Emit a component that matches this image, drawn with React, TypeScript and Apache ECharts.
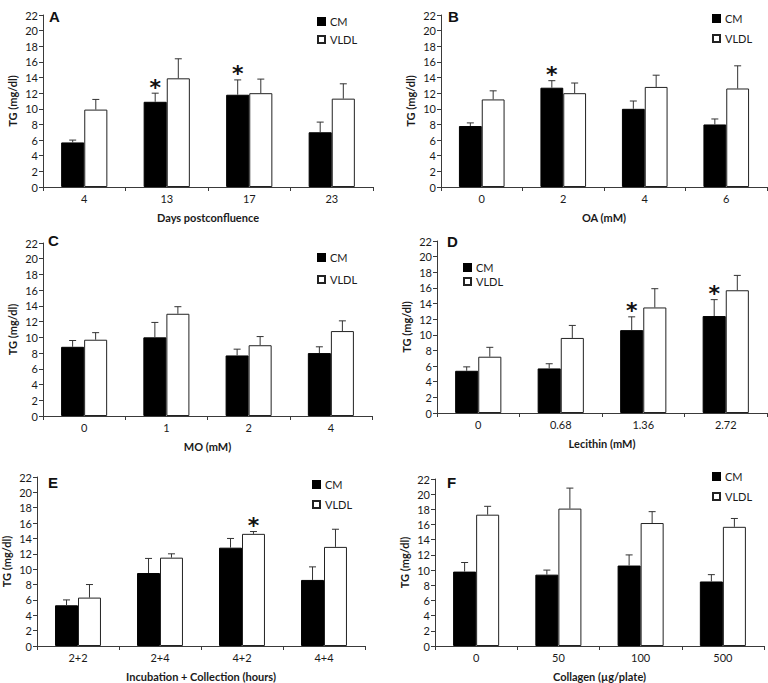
import React, { useEffect, useRef } from "react";
import * as echarts from "echarts";

// ---------- DATA ----------
const catsA = ["4", "13", "17", "23"];
const cmA = [5.7, 10.9, 11.8, 7.0];
const cmSeA = [0.3, 1.1, 1.9, 1.3];
const vldlA = [9.9, 13.9, 12.0, 11.3];
const vldlSeA = [1.3, 2.5, 1.8, 1.9];
const starCmA = [0, 1, 1, 0];
const starVldlA = [0, 0, 0, 0];

const catsB = ["0", "2", "4", "6"];
const cmB = [7.8, 12.7, 10.0, 8.0];
const cmSeB = [0.4, 0.9, 1.0, 0.7];
const vldlB = [11.2, 12.0, 12.8, 12.6];
const vldlSeB = [1.1, 1.3, 1.5, 2.9];
const starCmB = [0, 1, 0, 0];
const starVldlB = [0, 0, 0, 0];

const catsC = ["0", "1", "2", "4"];
const cmC = [8.8, 10.0, 7.7, 8.0];
const cmSeC = [0.8, 1.9, 0.8, 0.8];
const vldlC = [9.7, 13.0, 9.0, 10.8];
const vldlSeC = [0.9, 0.9, 1.1, 1.3];
const starCmC = [0, 0, 0, 0];
const starVldlC = [0, 0, 0, 0];

const catsD = ["0", "0.68", "1.36", "2.72"];
const cmD = [5.4, 5.7, 10.6, 12.4];
const cmSeD = [0.5, 0.6, 1.7, 2.1];
const vldlD = [7.2, 9.6, 13.5, 15.7];
const vldlSeD = [1.2, 1.6, 2.4, 1.9];
const starCmD = [0, 0, 1, 1];
const starVldlD = [0, 0, 0, 0];

const catsE = ["2+2", "2+4", "4+2", "4+4"];
const cmE = [5.3, 9.5, 12.8, 8.6];
const cmSeE = [0.7, 1.9, 1.2, 1.7];
const vldlE = [6.3, 11.5, 14.6, 12.9];
const vldlSeE = [1.7, 0.5, 0.3, 2.3];
const starCmE = [0, 0, 0, 0];
const starVldlE = [0, 0, 1, 0];

const catsF = ["0", "50", "100", "500"];
const cmF = [9.8, 9.4, 10.6, 8.5];
const cmSeF = [1.2, 0.6, 1.4, 0.9];
const vldlF = [17.3, 18.1, 16.2, 15.7];
const vldlSeF = [1.1, 2.7, 1.5, 1.1];
const starCmF = [0, 0, 0, 0];
const starVldlF = [0, 0, 0, 0];

const yTicks = { min: 0, max: 22, interval: 2 };
const yName = "TG (mg/dl)";

// ---------- LAYOUT ----------
const FONT = "Lato";

const panels = [
  { letter: "A", cats: catsA, cm: cmA, cmSe: cmSeA, vldl: vldlA, vldlSe: vldlSeA, sc: starCmA, sv: starVldlA, xName: "Days postconfluence",
    grid: { left: 43, top: 15, width: 330, height: 172 }, legend: { left: 317, top: 16, gap: 7 }, letterPos: { left: 49, top: 9 } },
  { letter: "B", cats: catsB, cm: cmB, cmSe: cmSeB, vldl: vldlB, vldlSe: vldlSeB, sc: starCmB, sv: starVldlB, xName: "OA (mM)",
    grid: { left: 441, top: 15, width: 326, height: 172 }, legend: { left: 712, top: 13, gap: 9 }, letterPos: { left: 448, top: 9 } },
  { letter: "C", cats: catsC, cm: cmC, cmSe: cmSeC, vldl: vldlC, vldlSe: vldlSeC, sc: starCmC, sv: starVldlC, xName: "MO (mM)",
    grid: { left: 43, top: 243, width: 329, height: 173 }, legend: { left: 317, top: 252, gap: 11 }, letterPos: { left: 48, top: 233 } },
  { letter: "D", cats: catsD, cm: cmD, cmSe: cmSeD, vldl: vldlD, vldlSe: vldlSeD, sc: starCmD, sv: starVldlD, xName: "Lecithin (mM)",
    grid: { left: 437, top: 241, width: 330, height: 172 }, legend: { left: 463, top: 262, gap: 3 }, letterPos: { left: 447, top: 234 } },
  { letter: "E", cats: catsE, cm: cmE, cmSe: cmSeE, vldl: vldlE, vldlSe: vldlSeE, sc: starCmE, sv: starVldlE, xName: "Incubation + Collection (hours)",
    grid: { left: 37, top: 477, width: 328, height: 170 }, legend: { left: 312, top: 479, gap: 9 }, letterPos: { left: 48, top: 475 } },
  { letter: "F", cats: catsF, cm: cmF, cmSe: cmSeF, vldl: vldlF, vldlSe: vldlSeF, sc: starCmF, sv: starVldlF, xName: "Collagen (µg/plate)",
    grid: { left: 435, top: 479, width: 329, height: 167 }, legend: { left: 712, top: 471, gap: 9 }, letterPos: { left: 447, top: 475 } },
];

const axisColor = "#3a3a3a";
const textColor = "#1a1a1a";

function buildOption() {
  const grid: any[] = [];
  const xAxis: any[] = [];
  const yAxis: any[] = [];
  const series: any[] = [];
  const legend: any[] = [];
  const title: any[] = [];

  panels.forEach((p, i) => {
    grid.push({ ...p.grid, containLabel: false });
    xAxis.push({
      type: "category",
      gridIndex: i,
      data: p.cats,
      name: p.xName,
      nameLocation: "middle",
      nameGap: 25,
      nameTextStyle: { fontFamily: FONT, fontWeight: "bold", fontSize: 11, color: textColor },
      axisLine: { lineStyle: { color: axisColor, width: 1 } },
      axisTick: { show: true, length: 4, lineStyle: { color: axisColor } },
      axisLabel: { fontFamily: FONT, fontSize: 11, color: textColor, margin: 6 },
      splitLine: { show: false },
    });
    yAxis.push({
      type: "value",
      gridIndex: i,
      ...yTicks,
      name: yName,
      nameLocation: "middle",
      nameRotate: 90,
      nameGap: 25,
      nameTextStyle: { fontFamily: FONT, fontWeight: "bold", fontSize: 11, color: textColor },
      axisLine: { show: true, lineStyle: { color: axisColor, width: 1 } },
      axisTick: { show: true, length: 4, lineStyle: { color: axisColor } },
      axisLabel: { fontFamily: FONT, fontSize: 11, color: textColor, margin: 5 },
      splitLine: { show: false },
    });
    series.push({
      type: "bar",
      name: "CM",
      xAxisIndex: i,
      yAxisIndex: i,
      data: p.cm,
      barWidth: "28%",
      barGap: "0%",
      itemStyle: { color: "#000000", borderColor: "#000000", borderWidth: 1 },
    });
    series.push({
      type: "bar",
      name: "VLDL",
      xAxisIndex: i,
      yAxisIndex: i,
      data: p.vldl,
      barWidth: "28%",
      barGap: "0%",
      itemStyle: { color: "#ffffff", borderColor: "#222222", borderWidth: 1 },
    });
    const errData: any[] = [];
    p.cats.forEach((_, k) => {
      errData.push([k, p.cm[k], p.cm[k] + p.cmSe[k], 0, p.sc[k]]);
      errData.push([k, p.vldl[k], p.vldl[k] + p.vldlSe[k], 1, p.sv[k]]);
    });
    series.push({
      type: "custom",
      name: "err" + p.letter,
      xAxisIndex: i,
      yAxisIndex: i,
      z: 5,
      encode: { x: 0, y: 2 },
      data: errData,
      renderItem: (params: any, api: any) => {
        const ci = api.value(0);
        const mean = api.value(1);
        const top = api.value(2);
        const side = api.value(3);
        const star = api.value(4);
        const cw = api.size([1, 0])[0];
        const pb = api.coord([ci, mean]);
        const pt = api.coord([ci, top]);
        const x = pb[0] + (side ? 1 : -1) * cw * 0.14;
        const st = { stroke: "#333333", lineWidth: 1 };
        const children: any[] = [
          { type: "line", shape: { x1: x, y1: pb[1], x2: x, y2: pt[1] }, style: st },
          { type: "line", shape: { x1: x - 3.5, y1: pt[1], x2: x + 3.5, y2: pt[1] }, style: st },
        ];
        if (star) {
          children.push({
            type: "text",
            x: x,
            y: pt[1] - 17,
            style: { text: "*", fill: "#111111", fontSize: 22, fontWeight: "bold", fontFamily: "DejaVu Sans", align: "center", verticalAlign: "top" },
          });
        }
        return { type: "group", children };
      },
    });
    legend.push({
      data: ["CM", "VLDL"],
      orient: "vertical",
      left: p.legend.left,
      top: p.legend.top,
      padding: 0,
      itemWidth: 7,
      itemHeight: 7,
      itemGap: p.legend.gap,
      icon: "rect",
      selectedMode: false,
      textStyle: { fontFamily: FONT, fontSize: 11, color: textColor },
    });
    title.push({
      text: p.letter,
      left: p.letterPos.left,
      top: p.letterPos.top,
      padding: 0,
      textStyle: { fontFamily: "Liberation Sans", fontWeight: "bold", fontSize: 15, color: "#111111" },
    });
  });

  return {
    animation: false,
    backgroundColor: "#ffffff",
    title,
    legend,
    grid,
    xAxis,
    yAxis,
    series,
  };
}

export default function App() {
  const ref = useRef<HTMLDivElement>(null);
  useEffect(() => {
    if (!ref.current) return;
    const chart = echarts.init(ref.current, null, { renderer: "svg" });
    chart.setOption(buildOption() as any);
    return () => chart.dispose();
  }, []);
  return (
    <div
      ref={ref}
      style={{ position: "fixed", left: 0, top: 0, width: 768, height: 683, background: "#fff" }}
    />
  );
}
